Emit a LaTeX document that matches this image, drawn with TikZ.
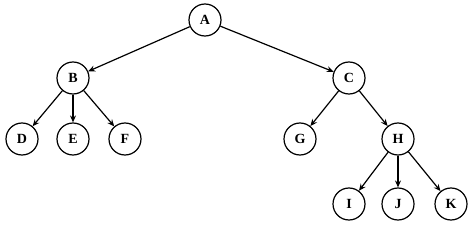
\documentclass[tikz,border=0pt]{standalone}
\usepackage{fontspec}
\setmainfont{Liberation Serif}
\usetikzlibrary{arrows.meta}
\begin{document}
\begin{tikzpicture}[x=1pt,y=-1pt,
  tnode/.style={circle,draw,line width=1.2pt,minimum size=32pt,inner sep=0pt,font=\fontsize{14}{14}\selectfont\bfseries},
  edge/.style={-{Stealth[length=7pt,width=6pt,inset=2.5pt]},line width=1.2pt}]
\useasboundingbox (0,0) rectangle (474,227);
\node[tnode] (A) at (205,20) {A};
\node[tnode] (B) at (73,78) {B};
\node[tnode] (C) at (349,78) {C};
\node[tnode] (D) at (22,139) {D};
\node[tnode] (E) at (73,139) {E};
\node[tnode] (F) at (125,139) {F};
\node[tnode] (G) at (300,139) {G};
\node[tnode] (H) at (398,139) {H};
\node[tnode] (I) at (349,204) {I};
\node[tnode] (J) at (398,204) {J};
\node[tnode] (K) at (451,204) {K};
\foreach \a/\b in {A/B,A/C,B/D,B/E,B/F,C/G,C/H,H/I,H/J,H/K}
  \draw[edge] (\a) -- (\b);
\end{tikzpicture}
\end{document}
